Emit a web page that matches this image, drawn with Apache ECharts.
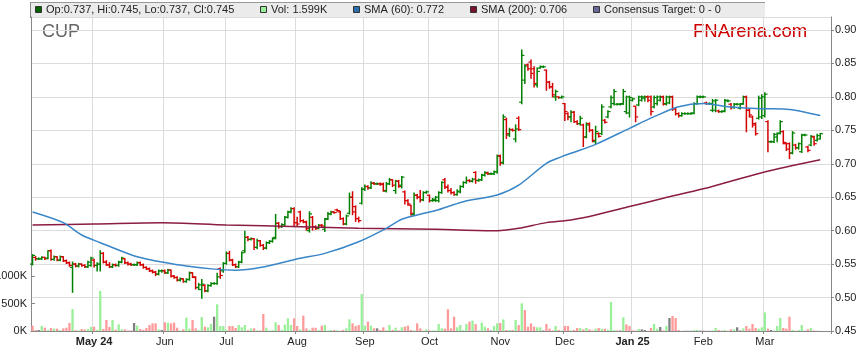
<!DOCTYPE html>
<html><head><meta charset="utf-8">
<script src="https://cdn.jsdelivr.net/npm/echarts@6/dist/echarts.min.js"></script>
<style>html,body{margin:0;padding:0;background:#fff}#c{width:859px;height:363px}</style>
</head><body><div id="c"></div>
<script>
// ---- data ----
const startDate = '2024-04-03';
const endDate = '2025-04-01';
const ticker = 'CUP';
const brand = 'FNArena.com';
const legendLabels = ['Op:0.737, Hi:0.745, Lo:0.737, Cl:0.745', 'Vol: 1.599K', 'SMA (60): 0.772', 'SMA (200): 0.706', 'Consensus Target: 0 - 0'];
const monthNames = ['Jan','Feb','Mar','Apr','May','Jun','Jul','Aug','Sep','Oct','Nov','Dec'];
// [open, high, low, close]
const ohlc = [
[.550,.564,.549,.563],[.560,.561,.556,.558],[.558,.559,.557,.558],[.558,.561,.557,.560],[.560,.560,.557,.558],
[.559,.570,.558,.570],[.570,.571,.556,.557],[.557,.562,.556,.561],[.561,.561,.555,.556],[.556,.562,.555,.561],
[.561,.561,.554,.555],[.555,.556,.551,.552],[.552,.553,.547,.548],[.545,.553,.508,.550],[.550,.551,.546,.547],
[.547,.551,.546,.550],[.550,.550,.547,.548],[.548,.549,.545,.546],[.546,.554,.545,.553],[.548,.560,.547,.559],
[.556,.557,.546,.548],[.548,.552,.540,.550],[.550,.570,.540,.566],[.566,.567,.552,.553],[.553,.555,.548,.549],
[.549,.552,.545,.546],[.546,.550,.545,.549],[.549,.550,.547,.548],[.548,.554,.547,.553],[.553,.560,.552,.559],
[.558,.558,.551,.552],[.552,.553,.549,.550],[.550,.551,.548,.549],[.549,.550,.548,.549],[.549,.553,.548,.552],
[.552,.553,.548,.549],[.549,.550,.544,.545],[.545,.546,.542,.543],[.543,.544,.539,.540],[.540,.541,.537,.538],
[.538,.539,.533,.535],[.535,.541,.534,.540],[.540,.541,.538,.540],[.540,.541,.536,.537],[.537,.542,.536,.541],
[.541,.541,.531,.532],[.532,.533,.529,.530],[.530,.531,.525,.526],[.526,.529,.525,.528],[.528,.528,.523,.524],
[.524,.528,.523,.527],[.527,.538,.526,.537],[.537,.537,.530,.531],[.530,.531,.513,.515],[.515,.521,.512,.519],
[.512,.527,.499,.520],[.518,.519,.509,.510],[.510,.519,.509,.518],[.518,.522,.517,.521],[.521,.522,.520,.521],
[.521,.536,.520,.531],[.543,.544,.529,.533],[.540,.552,.538,.551],[.551,.568,.550,.566],[.566,.569,.555,.556],
[.556,.557,.548,.549],[.549,.550,.545,.546],[.546,.554,.545,.553],[.553,.568,.552,.567],[.570,.599,.568,.590],
[.590,.591,.585,.587],[.587,.589,.586,.588],[.588,.588,.572,.575],[.575,.587,.573,.585],[.585,.585,.577,.578],
[.578,.579,.572,.574],[.574,.583,.573,.582],[.582,.585,.581,.584],[.584,.589,.583,.588],[.590,.624,.588,.611],
[.611,.612,.604,.606],[.606,.610,.605,.609],[.609,.621,.608,.620],[.620,.629,.619,.628],[.628,.634,.627,.633],
[.633,.634,.608,.612],[.612,.620,.608,.610],
[.628,.629,.613,.615],[.615,.616,.612,.613],[.613,.614,.601,.603],
[.600,.628,.598,.625],[.620,.621,.601,.606],[.606,.607,.602,.603],[.604,.609,.603,.608],[.608,.609,.606,.607],
[.602,.618,.599,.617],[.618,.627,.617,.625],[.625,.629,.624,.628],[.628,.628,.626,.627],[.631,.632,.629,.630],
[.628,.629,.617,.618],[.618,.619,.609,.610],[.610,.623,.609,.622],[.626,.656,.625,.650],[.650,.658,.624,.628],
[.636,.637,.614,.618],[.618,.620,.613,.615],[.641,.664,.640,.662],[.662,.668,.660,.666],[.666,.667,.662,.664],
[.664,.673,.663,.671],[.671,.672,.669,.670],[.670,.671,.669,.670],[.670,.671,.668,.669],[.670,.671,.659,.660],
[.659,.672,.658,.670],[.670,.678,.669,.676],[.676,.676,.666,.668],[.660,.675,.656,.674],[.674,.675,.665,.666],
[.668,.681,.664,.680],[.658,.659,.640,.645],[.645,.646,.638,.640],[.638,.638,.623,.626],[.624,.656,.623,.653],
[.653,.654,.648,.650],[.650,.660,.643,.646],[.646,.658,.645,.657],[.657,.659,.656,.658],[.653,.653,.643,.645],
[.645,.648,.644,.647],[.645,.651,.644,.650],
[.645,.658,.643,.657],[.657,.673,.656,.672],[.676,.678,.663,.665],
[.665,.668,.658,.660],[.660,.663,.655,.657],[.657,.658,.653,.654],[.654,.661,.653,.659],[.658,.667,.657,.666],
[.666,.673,.665,.672],[.672,.680,.671,.675],[.675,.676,.673,.674],[.674,.678,.673,.677],[.687,.688,.671,.675],
[.675,.677,.674,.676],[.676,.684,.675,.683],[.683,.688,.682,.687],[.686,.687,.684,.685],[.685,.686,.684,.685],
[.685,.689,.684,.688],[.688,.713,.686,.711],[.712,.713,.698,.701],[.702,.773,.700,.770],[.766,.768,.738,.745],
[.743,.753,.741,.751],[.751,.752,.749,.750],[.737,.758,.733,.752],[.768,.770,.750,.751],[.792,.870,.790,.862],
[.825,.848,.820,.846],[.848,.849,.840,.842],[.852,.855,.828,.835],[.842,.845,.815,.820],[.818,.843,.815,.838],
[.843,.846,.843,.845],[.845,.846,.844,.845],[.840,.840,.810,.822],[.822,.823,.813,.815],[.815,.820,.800,.803],
[.800,.810,.795,.808],[.800,.800,.798,.799],[.799,.801,.798,.800],[.790,.790,.765,.778],[.775,.776,.766,.770],
[.770,.779,.763,.777],[.777,.778,.762,.763],[.763,.764,.759,.760],[.760,.771,.758,.768],[.758,.759,.726,.740],
[.740,.761,.739,.758],[.760,.761,.748,.750],[.750,.751,.733,.735],[.733,.756,.730,.748],[.745,.746,.740,.741],
[.745,.788,.744,.785],[.765,.766,.761,.762],[.770,.779,.769,.778],[.785,.801,.784,.799],[.790,.811,.788,.808],
[.789,.790,.788,.789],[.789,.790,.788,.789],[.790,.811,.789,.808],[.778,.801,.775,.800],[.776,.801,.770,.799],
[.795,.798,.794,.797],[.786,.786,.763,.770],[.788,.801,.787,.800],[.795,.801,.794,.800],[.798,.801,.794,.800],
[.800,.801,.793,.795],[.800,.801,.773,.778],[.785,.801,.784,.799],[.790,.801,.788,.800],[.795,.801,.794,.800],
[.800,.801,.788,.789],[.790,.801,.788,.800],[.791,.801,.790,.800],[.800,.801,.780,.782],[.782,.783,.773,.775],
[.775,.776,.770,.772],[.772,.776,.771,.775],[.775,.776,.774,.775],[.775,.776,.774,.775],[.775,.776,.774,.775],
[.776,.791,.775,.790],[.790,.801,.789,.800],[.800,.801,.799,.800],
[.800,.801,.799,.800],[.791,.792,.789,.790],
[.790,.791,.789,.790],[.780,.796,.778,.794],[.780,.796,.778,.795],[.779,.780,.777,.778],[.778,.779,.777,.778],
[.779,.796,.778,.795],[.794,.795,.793,.794],[.789,.790,.782,.784],[.784,.790,.783,.789],[.789,.790,.788,.789],
[.783,.790,.782,.789],[.790,.801,.789,.800],[.800,.801,.748,.780],[.780,.781,.770,.773],[.770,.771,.755,.758],
[.760,.761,.743,.745],[.768,.801,.767,.798],[.770,.803,.768,.800],[.772,.806,.770,.804],[.763,.764,.718,.733],
[.733,.734,.732,.733],[.733,.745,.732,.744],[.740,.746,.733,.745],[.746,.764,.745,.763],[.748,.749,.730,.732],
[.730,.731,.720,.722],[.730,.731,.708,.716],[.716,.748,.715,.746],[.728,.729,.722,.724],[.724,.731,.722,.730],
[.718,.744,.717,.743],[.743,.744,.742,.743],[.725,.726,.718,.720],[.728,.742,.727,.741],[.740,.741,.728,.730],
[.735,.744,.734,.742],[.737,.745,.737,.745]
];
// volume in thousands
const volumeK = [
97,18,18,91,61,18,55,42,42,18, 48,60,145,400,15,10,36,24,36,73,
79,20,727,36,200,73,200,24,121,30, 30,10,10,145,97,36,20,55,109,139,
139,30,20,158,152,139,152,60,10,30, 242,42,200,48,15,255,79,67,127,260,
485,91,91,20,91,91,55,109,67,109, 15,48,48,10,10,309,60,10,15,158,
109,20,115,230,109,230,91,30,279,48, 20,60,60,15,97,109,10,18,18,10,
6,18,48,212,139,91,109,673,97,170, 97,48,48,18,67,15,109,18,60,10,
67,79,97,18,10,139,48,10,30,10, 10,10,127,48,42,394,48,260,67,109,
18,127,170,188,127,10,152,79,48,10, 91,139,145,212,18,18,18,200,109,503,
382,79,139,79,67,67,10,127,42,10, 91,18,10,91,91,10,18,55,55,30,
55,30,10,42,55,42,42,18,527,18, 10,10,248,121,91,10,10,36,30,18,
6,55,127,42,73,10,91,236,273,236, 18,5,5,5,5,18,18,6,6,5,
5,10,55,18,5,18,5,30,30,67, 10,48,91,42,127,55,42,67,339,42,
18,10,91,236,55,42,260,18,5,18, 109,5,30,55,10,6,1.599
];
// [day index, value]
const sma60 = [[0,0.628],[10,0.612],[16,0.5935],[22,0.582],[32,0.564],[37,0.5577],[42,0.553],[50,0.547],[59,0.5425],[66,0.541],[74,0.545],[87,0.5587],[95,0.566],[106,0.5835],[115,0.6035],[120,0.617],[126,0.6245],[131,0.630],[140,0.6433],[151,0.6533],[158,0.668],[167,0.7007],[172,0.7106],[175,0.7157],[183,0.729],[194,0.753],[202,0.7704],[210,0.7853],[218,0.790],[226,0.7853],[237,0.7823],[244,0.782],[256,0.772]];
const sma200 = [[0,0.6085],[20,0.610],[42,0.612],[63,0.6085],[87,0.606],[106,0.6035],[131,0.602],[151,0.600],[158,0.6035],[167,0.612],[175,0.616],[183,0.6234],[194,0.636],[205,0.6484],[218,0.6625],[237,0.6867],[256,0.706]];

// ---- build ----
const dates = [];
for (let d = new Date(startDate + 'T00:00:00Z'); d <= new Date(endDate + 'T00:00:00Z'); d.setUTCDate(d.getUTCDate() + 1)) {
  const wd = d.getUTCDay();
  if (wd === 0 || wd === 6) continue;
  dates.push(d.toISOString().slice(0, 10));
}
const monthStart = new Set();
for (let i = 1; i < ohlc.length; i++) {
  if (dates[i].slice(5, 7) !== dates[i - 1].slice(5, 7)) monthStart.add(i);
}
const firstLabel = Math.min(...monthStart);
const isMonthStart = (i) => monthStart.has(i);

const FONT = '"Liberation Sans", Arial, sans-serif';
const UP = '#008000', DOWN = '#d40000';

function volColor(i) {
  if (i === 0) return '#ff9a9a';
  const d = ohlc[i][3] - ohlc[i - 1][3];
  return d > 0.0001 ? '#99f099' : (d < -0.0001 ? '#ff9a9a' : '#808080');
}

function renderItem(params, api) {
  const i = api.value(0);
  const o = api.value(1), h = api.value(2), l = api.value(3), c = api.value(4);
  const pH = api.coord([i, h]), pL = api.coord([i, l]), pO = api.coord([i, o]), pC = api.coord([i, c]);
  const bw = api.size([1, 0])[0];
  const t = bw * 0.85;
  const x = pH[0];
  const col = c >= o ? UP : DOWN;
  return {
    type: 'group',
    children: [
      {type: 'line', shape: {x1: x, y1: pH[1] - 0.6, x2: x, y2: pL[1] + 0.6}, style: {stroke: col, lineWidth: 1.5}},
      {type: 'line', shape: {x1: x - t, y1: pO[1], x2: x, y2: pO[1]}, style: {stroke: col, lineWidth: 1.2}},
      {type: 'line', shape: {x1: x, y1: pC[1], x2: x + t, y2: pC[1]}, style: {stroke: col, lineWidth: 1.2}}
    ]
  };
}

const legendColors = ['#006400', '#99f099', '#2a70b0', '#7a0f2e', '#6a6a9a'];
const legendX = [35, 260, 353, 470, 593];
const graphic = [
  {type: 'rect', shape: {x: 31, y: 2, width: 734, height: 15}, style: {fill: '#ebebeb'}, silent: true, z: 0},
  {type: 'line', shape: {x1: 31, y1: 2.5, x2: 765, y2: 2.5}, style: {stroke: '#999', lineWidth: 1}, silent: true},
  {type: 'line', shape: {x1: 30.5, y1: 2, x2: 30.5, y2: 18}, style: {stroke: '#888', lineWidth: 1}, silent: true},
  {type: 'text', x: 42, y: 32, style: {text: ticker, fill: '#666', font: '18px ' + FONT, verticalAlign: 'middle'}, silent: true},
  {type: 'text', x: 693, y: 32, style: {text: brand, fill: '#cc0000', font: '18.5px ' + FONT, verticalAlign: 'middle'}, silent: true}
];
legendLabels.forEach((lab, k) => {
  graphic.push({type: 'rect', shape: {x: legendX[k] + 0.5, y: 6.5, width: 6, height: 6}, style: {fill: legendColors[k], stroke: '#333', lineWidth: 1}, silent: true});
  graphic.push({type: 'text', x: legendX[k] + 11, y: 10, style: {text: lab, fill: '#222', font: '11px ' + FONT, verticalAlign: 'middle'}, silent: true});
});

const chart = echarts.init(document.getElementById('c'), null, {renderer: 'canvas'});
chart.setOption({
  animation: false,
  backgroundColor: '#ffffff',
  textStyle: {fontFamily: FONT},
  graphic: graphic,
  grid: [
    {left: 31, right: 28, top: 17, bottom: 32, containLabel: false, outerBoundsMode: 'none'},
    {left: 31, right: 28, top: 276, bottom: 32, containLabel: false, outerBoundsMode: 'none'}
  ],
  xAxis: [
    {
      type: 'category', data: dates, gridIndex: 0, boundaryGap: true,
      axisLine: {show: true, lineStyle: {color: '#888', width: 1}},
      axisTick: {show: true, interval: isMonthStart, length: 3, lineStyle: {color: '#888'}},
      axisLabel: {
        interval: isMonthStart, margin: 5, fontSize: 11, color: '#222', fontFamily: FONT,
        formatter: (val, idx) => {
          const y = val.slice(2, 4), m = +val.slice(5, 7);
          const name = monthNames[m - 1];
          if (m === 1 || idx === firstLabel) return '{b|' + name + ' ' + y + '}';
          return name;
        },
        rich: {b: {fontWeight: 'bold', fontSize: 11, color: '#222', fontFamily: FONT}}
      },
      splitLine: {show: true, interval: isMonthStart, lineStyle: {color: '#dcdcdc', width: 1}}
    },
    {type: 'category', data: dates, gridIndex: 1, boundaryGap: true, show: false}
  ],
  yAxis: [
    {
      type: 'value', gridIndex: 0, position: 'right', min: 0.45, max: 0.9194, interval: 0.05,
      axisLine: {show: true, lineStyle: {color: '#888'}},
      axisTick: {show: true, length: 3, lineStyle: {color: '#888'}},
      axisLabel: {showMaxLabel: false, margin: 4, fontSize: 11, color: '#222', fontFamily: FONT, formatter: v => v.toFixed(2)},
      splitLine: {show: true, lineStyle: {color: '#dcdcdc', width: 1}}
    },
    {
      type: 'value', gridIndex: 0, position: 'left', min: 0, max: 1,
      axisLine: {show: true, lineStyle: {color: '#888'}},
      axisTick: {show: false}, axisLabel: {show: false}, splitLine: {show: false}
    },
    {
      type: 'value', gridIndex: 1, position: 'left', min: 0, max: 1000000, interval: 500000,
      axisLine: {show: false},
      axisTick: {show: true, inside: true, length: 4, lineStyle: {color: '#888'}},
      axisLabel: {margin: 4, fontSize: 11, color: '#222', fontFamily: FONT, formatter: v => (v / 1000) + 'K'},
      splitLine: {show: false}
    }
  ],
  series: [
    {
      type: 'bar', xAxisIndex: 1, yAxisIndex: 2, barWidth: 2.3, silent: true, z: 1,
      data: volumeK.map((v, i) => ({value: v * 1000, itemStyle: {color: volColor(i)}}))
    },
    {
      type: 'custom', xAxisIndex: 0, yAxisIndex: 0, z: 3, silent: true,
      renderItem: renderItem,
      encode: {x: 0, y: [1, 2, 3, 4]},
      data: ohlc.map((r, i) => [i, r[0], r[1], r[2], r[3]])
    },
    {
      type: 'line', xAxisIndex: 0, yAxisIndex: 0, z: 4, silent: true, showSymbol: false, smooth: 0.3,
      lineStyle: {color: '#8b1c42', width: 1.5}, data: sma200
    },
    {
      type: 'line', xAxisIndex: 0, yAxisIndex: 0, z: 4, silent: true, showSymbol: false, smooth: 0.3,
      lineStyle: {color: '#3986c8', width: 1.5}, data: sma60
    }
  ]
});
</script>
</body></html>
